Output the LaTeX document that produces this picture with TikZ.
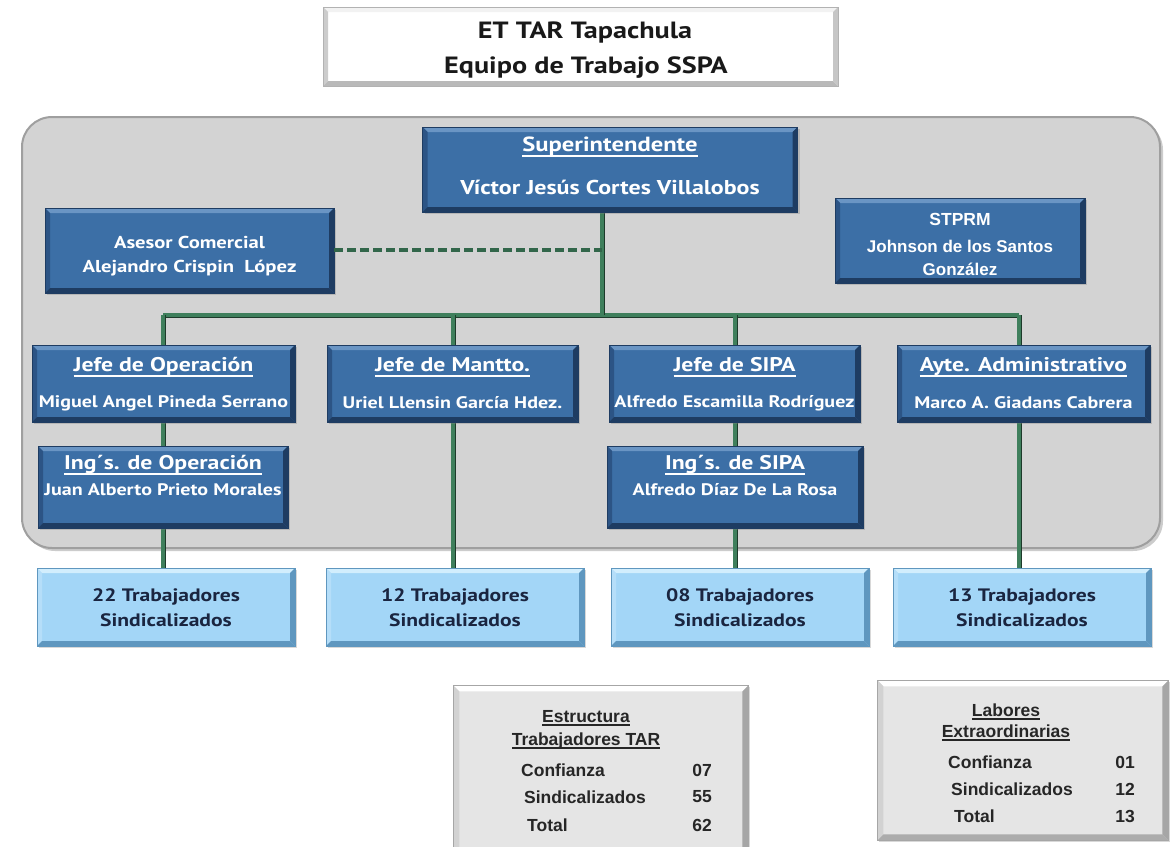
\documentclass[tikz,border=0pt]{standalone}
\usepackage{fontspec}
\setmainfont{PT Sans}
\newfontfamily\arialf{Liberation Sans}
\newfontfamily\tahw[FakeStretch=1.2]{PT Sans}
\usetikzlibrary{shadows}
\definecolor{bblue}{HTML}{3C6FA6}
\definecolor{bbluel}{HTML}{6A95C4}
\definecolor{bblued}{HTML}{1E3C62}
\definecolor{bbluem}{HTML}{2C5485}
\definecolor{lblue}{HTML}{A3D6F7}
\definecolor{lbluel}{HTML}{D2EEFD}
\definecolor{lblued}{HTML}{5F97BF}
\definecolor{panelg}{HTML}{D3D3D3}
\definecolor{boxg}{HTML}{E5E5E5}
\definecolor{cgreen}{HTML}{3F7F5C}
\definecolor{cdark}{HTML}{1D3A2A}
\definecolor{navy}{HTML}{1A2540}
\newcommand\ulx[2][4pt]{\setbox0=\hbox{#2}\leavevmode\rlap{\rule[-#1]{\wd0}{1.6pt}}\box0}
\tikzset{
  bevel/.style n args={5}{path picture={
    \coordinate (bnw) at (path picture bounding box.north west);
    \coordinate (bne) at (path picture bounding box.north east);
    \coordinate (bsw) at (path picture bounding box.south west);
    \coordinate (bse) at (path picture bounding box.south east);
    \fill[#1] (bnw) -- (bne) -- ([shift={(-#5,-#5)}]bne) -- ([shift={(#5,-#5)}]bnw) -- cycle;
    \fill[#2] (bnw) -- (bsw) -- ([shift={(#5,#5)}]bsw) -- ([shift={(#5,-#5)}]bnw) -- cycle;
    \fill[#3] (bsw) -- (bse) -- ([shift={(-#5,#5)}]bse) -- ([shift={(#5,#5)}]bsw) -- cycle;
    \fill[#4] (bne) -- (bse) -- ([shift={(-#5,#5)}]bse) -- ([shift={(-#5,-#5)}]bne) -- cycle;
  }},
  bbox/.style={rectangle, fill=bblue, draw=bblued, line width=0.8pt, inner sep=0pt,
    bevel={bbluel}{bbluem}{bblued}{bblued}{5pt},
    drop shadow={opacity=0.35, shadow xshift=2pt, shadow yshift=-2pt}},
  lbox/.style={rectangle, fill=lblue, draw=lblued, line width=0.8pt, inner sep=0pt,
    bevel={lbluel}{lblue!80!white}{lblued}{lblued}{5pt},
    drop shadow={opacity=0.3, shadow xshift=2pt, shadow yshift=-2pt}},
  gbox/.style={rectangle, fill=boxg, draw=gray!70, line width=0.8pt, inner sep=0pt,
    bevel={white}{gray!35}{gray!65}{gray!70}{6pt}},
  wbox/.style={rectangle, fill=white, draw=gray!60, line width=0.8pt, inner sep=0pt,
    bevel={gray!10}{gray!40}{gray!55}{gray!45}{5pt}},
  wt/.style={text=white, inner sep=0pt, font=\tahw\bfseries\fontsize{16.7}{19}\selectfont},
  wh/.style={text=white, inner sep=0pt, font=\tahw\bfseries\fontsize{19.8}{22}\selectfont},
  atxt/.style={text=white, inner sep=0pt, font=\arialf\bfseries\fontsize{17.5}{20}\selectfont},
  nt/.style={text=navy, inner sep=0pt, font=\tahw\bfseries\fontsize{18}{21}\selectfont},
  gt/.style={text=black!85, inner sep=0pt, font=\arialf\bfseries\fontsize{17.5}{20}\selectfont},
  conn/.style={draw=cgreen, line width=3.2pt, preaction={draw=cdark, line width=5pt}},
  dconn/.style={draw=cgreen!80!black, line width=4pt, dash pattern=on 9pt off 4pt},
}
\begin{document}
\begin{tikzpicture}[x=1pt,y=-1pt]
\useasboundingbox (0,0) rectangle (1172,846);
\clip (0,0) rectangle (1172,846);
\fill[white] (0,0) rectangle (1172,846);

% title
\node[wbox, minimum width=515pt, minimum height=79pt] (title) at (580.5,46.5) {};
\node[inner sep=0pt, text=black!90, font=\tahw\bfseries\fontsize{23.5}{27}\selectfont] (title1) at (585,33) {ET TAR Tapachula};
\node[inner sep=0pt, text=black!90, font=\tahw\bfseries\fontsize{23.5}{27}\selectfont] (title2) at (586,68) {Equipo de Trabajo SSPA};

% panel
\draw[fill=panelg, draw=gray!75, line width=2pt, rounded corners=30pt,
  drop shadow={opacity=0.4, shadow xshift=3pt, shadow yshift=-3pt}] (22,117) rectangle (1160,548);
\coordinate (panelnw) at (22,117);

% coordinates for connectors
\coordinate (bj) at (602,315);
\coordinate (b1) at (163,315);
\coordinate (b2) at (453,315);
\coordinate (b3) at (735,315);
\coordinate (b4) at (1019,315);
\coordinate (bd) at (602,250);

% connectors (drawn first, boxes over them)
\draw[conn] (b1) -- (b4);
\draw[conn] (bj) -- (602,205);
\draw[conn] (b1) -- (163,568);
\draw[conn] (b2) -- (453,568);
\draw[conn] (b3) -- (735,568);
\draw[conn] (b4) -- (1019,568);

% superintendente
\node[bbox, minimum width=375pt, minimum height=85pt] (sup) at (610,169.5) {};
\node[wh, font=\tahw\bfseries\fontsize{20.5}{23}\selectfont] (supt) at (610,147) {\ulx[5pt]{Superintendente}};
\node[wt, font=\tahw\bfseries\fontsize{20}{23}\selectfont] (supn) at (610,187) {Víctor Jesús Cortes Villalobos};

% asesor
\node[bbox, minimum width=289pt, minimum height=85pt] (ase) at (189.5,250.5) {};
\node[wt, font=\tahw\bfseries\fontsize{17.2}{20}\selectfont] (aset) at (189.5,242) {Asesor Comercial};
\node[wt, font=\tahw\bfseries\fontsize{17.2}{20}\selectfont] (asen) at (189.5,268) {Alejandro Crispin\ \ López};
\draw[dconn] (ase.east |- bd) -- (bd);

% stprm
\node[bbox, minimum width=250pt, minimum height=85pt] (stp) at (960,240.5) {};
\node[atxt] (stpt) at (960,219) {STPRM};
\node[atxt, font=\arialf\bfseries\fontsize{17}{20}\selectfont] (stpn1) at (960,246) {Johnson de los Santos};
\node[atxt, font=\arialf\bfseries\fontsize{17}{20}\selectfont] (stpn2) at (960,269) {González};

% row 1
\node[bbox, minimum width=263pt, minimum height=77pt] (j1) at (163.5,383.5) {};
\node[wh] (j1t) at (163.5,367) {\ulx[5pt]{Jefe de Operación}};
\node[wt] (j1n) at (163.5,403) {Miguel Angel Pineda Serrano};

\node[bbox, minimum width=251pt, minimum height=77pt] (j2) at (452.5,383.5) {};
\node[wh] (j2t) at (452.5,367) {\ulx[5pt]{Jefe de Mantto.}};
\node[wt] (j2n) at (452.5,403) {Uriel Llensin García Hdez.};

\node[bbox, minimum width=251pt, minimum height=77pt] (j3) at (734.5,383.5) {};
\node[wh] (j3t) at (734.5,367) {\ulx[5pt]{Jefe de SIPA}};
\node[wt] (j3n) at (734.5,403) {Alfredo Escamilla Rodríguez};

\node[bbox, minimum width=253pt, minimum height=77pt] (j4) at (1023.5,383.5) {};
\node[wh] (j4t) at (1023.5,367) {\ulx[5pt]{Ayte. Administrativo}};
\node[wt] (j4n) at (1023.5,403) {Marco A. Giadans Cabrera};

% row 2
\node[bbox, minimum width=250pt, minimum height=82pt] (i1) at (163,487) {};
\node[wh] (i1t) at (163,465) {\ulx[5pt]{Ing´s. de Operación}};
\node[wt] (i1n) at (163,490) {Juan Alberto Prieto Morales};

\node[bbox, minimum width=256pt, minimum height=82pt] (i3) at (735,487) {};
\node[wh] (i3t) at (735,465) {\ulx[5pt]{Ing´s. de SIPA}};
\node[wt] (i3n) at (735,490) {Alfredo Díaz De La Rosa};

% light blue boxes
\node[lbox, minimum width=258pt, minimum height=78pt] (t1) at (166,607) {};
\node[nt] (t1a) at (166,597) {22 Trabajadores};
\node[nt] (t1b) at (166,620) {Sindicalizados};
\node[lbox, minimum width=258pt, minimum height=78pt] (t2) at (455,607) {};
\node[nt] (t2a) at (455,597) {12 Trabajadores};
\node[nt] (t2b) at (455,620) {Sindicalizados};
\node[lbox, minimum width=258pt, minimum height=78pt] (t3) at (740,607) {};
\node[nt] (t3a) at (740,597) {08 Trabajadores};
\node[nt] (t3b) at (740,620) {Sindicalizados};
\node[lbox, minimum width=258pt, minimum height=78pt] (t4) at (1022,607) {};
\node[nt] (t4a) at (1022,597) {13 Trabajadores};
\node[nt] (t4b) at (1022,620) {Sindicalizados};

% estructura box
\node[gbox, minimum width=295pt, minimum height=180pt, anchor=north west,
  drop shadow={opacity=0.3, shadow xshift=2pt, shadow yshift=-2pt}] (est) at (453,685) {};
\node[gt] (estt1) at (586,718) {\ulx[3pt]{Estructura}};
\node[gt] (estt2) at (586,741) {\ulx[3pt]{Trabajadores TAR}};
\node[gt, anchor=west] (estc) at (521,770) {Confianza};
\node[gt, anchor=east] (estcn) at (712,770) {07};
\node[gt, anchor=west] (ests) at (524,797) {Sindicalizados};
\node[gt, anchor=east] (estsn) at (712,797) {55};
\node[gt, anchor=west] (estto) at (527,825) {Total};
\node[gt, anchor=east] (esttn) at (712,825) {62};

% labores box
\node[gbox, minimum width=291pt, minimum height=160pt, anchor=north west,
  drop shadow={opacity=0.3, shadow xshift=2pt, shadow yshift=-2pt}] (lab) at (877,680) {};
\node[gt] (labt1) at (1006,712) {\ulx[3pt]{Labores}};
\node[gt] (labt2) at (1006,733) {\ulx[3pt]{Extraordinarias}};
\node[gt, anchor=west] (labc) at (948,762) {Confianza};
\node[gt, anchor=east] (labcn) at (1135,762) {01};
\node[gt, anchor=west] (labs) at (951,789) {Sindicalizados};
\node[gt, anchor=east] (labsn) at (1135,789) {12};
\node[gt, anchor=west] (labto) at (954,816) {Total};
\node[gt, anchor=east] (labtn) at (1135,816) {13};
\end{tikzpicture}
\end{document}
